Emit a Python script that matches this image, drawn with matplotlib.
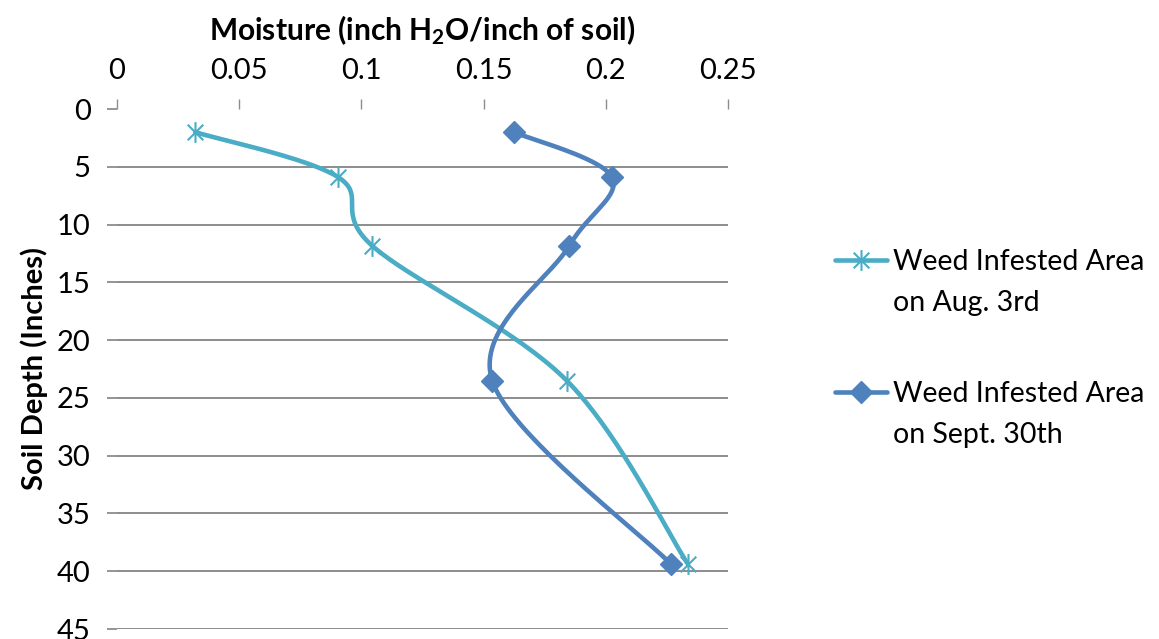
import numpy as np
import matplotlib
matplotlib.use("Agg")
import matplotlib.pyplot as plt
from matplotlib.lines import Line2D
from matplotlib.path import Path

plt.rcParams['font.family'] = ['Lato', 'DejaVu Sans']
plt.rcParams['mathtext.fontset'] = 'custom'
plt.rcParams['mathtext.rm'] = 'Lato:bold'
plt.rcParams['mathtext.default'] = 'regular'

# soil depth (inches) and moisture (inch H2O / inch of soil)
depth = [2, 5.9, 11.85, 23.5, 39.35]
moist_aug = [0.032, 0.0905, 0.1045, 0.184, 0.2335]
moist_sep = [0.1625, 0.2025, 0.185, 0.1535, 0.2265]
labels = [('Weed Infested Area', 'on Aug. 3rd'), ('Weed Infested Area', 'on Sept. 30th')]
xticks = [0, 0.05, 0.1, 0.15, 0.2, 0.25]
yticks = list(range(0, 50, 5))

c_aug = '#4BACC6'
c_sep = '#4F81BD'
grid_c = '#8C8C8C'

# star marker: an X with a vertical bar through it
star = Path([(0, -1), (0, 1), (-0.75, -0.75), (0.75, 0.75), (-0.75, 0.75), (0.75, -0.75)],
            [Path.MOVETO, Path.LINETO] * 3)

W, H = 1159, 639
fig = plt.figure(figsize=(W / 100, H / 100), dpi=100)
ax = fig.add_axes([117 / W, 1 - 629 / H, (728 - 117) / W, (629 - 109) / H])
ax.set_xlim(0, 0.25)
ax.set_ylim(45, 0)
ax.xaxis.tick_top()
ax.xaxis.set_label_position('top')
ax.set_xticks(xticks)
ax.set_xticklabels(['0', '0.05', '0.1', '0.15', '0.2', '0.25'])
ax.set_yticks(yticks)
for s in ax.spines.values():
    s.set_visible(False)
ax.tick_params(axis='x', direction='out', length=7, width=1, color=grid_c,
               labelsize=21, pad=11)
ax.tick_params(axis='y', direction='out', length=7, width=1.3, color=grid_c,
               labelsize=21, pad=12)
for y in yticks[1:]:
    ax.axhline(y, color=grid_c, lw=1.4, zorder=0)

ax.set_xlabel(r'Moisture (inch H$_2$O/inch of soil)', fontsize=21.5,
              fontweight='bold', labelpad=13)
ax.set_ylabel('Soil Depth (Inches)', fontsize=21, fontweight='bold', labelpad=6)


def smooth(xs, ys, n=40):
    # cubic bezier through the points, tangents taken in display space
    pts = ax.transData.transform(np.column_stack([xs, ys]))
    out = []
    m = len(pts)
    t = np.linspace(0, 1, n)[:, None]
    for i in range(m - 1):
        p0, p3 = pts[i], pts[i + 1]
        prev = pts[max(i - 1, 0)]
        nxt = pts[min(i + 2, m - 1)]
        c1 = p0 + (p3 - prev) / 6
        c2 = p3 - (nxt - p0) / 6
        seg = ((1 - t) ** 3) * p0 + 3 * ((1 - t) ** 2) * t * c1 \
            + 3 * (1 - t) * t ** 2 * c2 + t ** 3 * p3
        out.append(seg)
    curve = ax.transData.inverted().transform(np.vstack(out))
    return curve[:, 0], curve[:, 1]


aug_mk = dict(marker=star, ms=15, mew=1.5)
sep_mk = dict(marker='D', ms=11)

sx, sy = smooth(moist_aug, depth)
ax.plot(sx, sy, color=c_aug, lw=3.3, solid_capstyle='round', zorder=3)
ax.plot(moist_aug, depth, ls='none', color=c_aug, zorder=4, **aug_mk)

sx, sy = smooth(moist_sep, depth)
ax.plot(sx, sy, color=c_sep, lw=3.3, solid_capstyle='round', zorder=3)
ax.plot(moist_sep, depth, ls='none', color=c_sep, zorder=4, **sep_mk)

# legend, handle aligned with the first text line
for (l1, l2), col, mk, yl in zip(labels, [c_aug, c_sep], [aug_mk, sep_mk], [260, 392]):
    fy = 1 - yl / H
    fig.add_artist(Line2D([835 / W, 887 / W], [fy, fy], lw=3.3, color=col,
                          solid_capstyle='round', transform=fig.transFigure))
    fig.add_artist(Line2D([861 / W], [fy], ls='none', color=col,
                          transform=fig.transFigure, **mk))
    fig.text(893 / W, fy, l1, fontsize=20.5, va='center_baseline', ha='left')
    fig.text(893 / W, fy - 41 / H, l2, fontsize=20.5, va='center_baseline', ha='left')

fig.savefig('out.png', dpi=100)
